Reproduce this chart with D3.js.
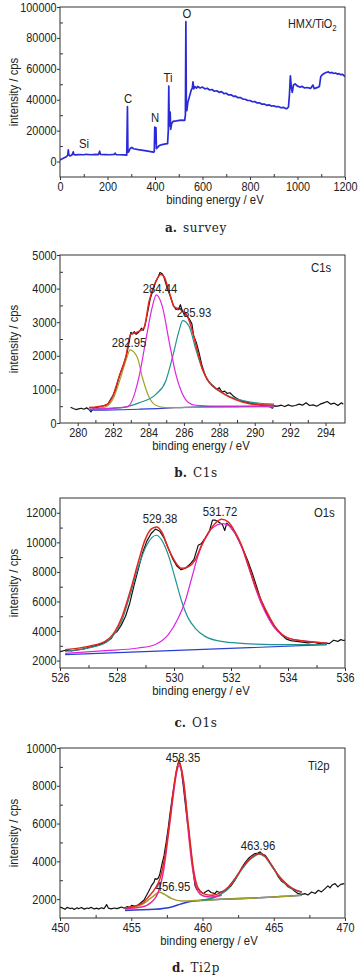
<!DOCTYPE html>
<html><head><meta charset="utf-8">
<script src="https://cdn.jsdelivr.net/npm/d3@7"></script>
<style>
html,body{margin:0;padding:0;background:#fff;}
svg{display:block;}
text{font-family:"Liberation Sans",Arial,sans-serif;fill:#222;}
</style></head><body>
<svg id="c" width="358" height="979"></svg>
<script>
// ---------- DATA ----------
// (a) survey spectrum: [binding energy eV, counts]
const surveyData = [[0,800],[5,1500],[12,2000],[20,2600],[28,3300],[33,4200],[35,7600],[37,4500],[42,3600],[50,4200],[56,6300],[58,4600],[65,4300],[80,4500],[100,4400],[110,4700],[130,4400],[150,4600],[162,4500],[167,6700],[170,4600],[190,4500],[210,4400],[228,4600],[232,5400],[236,4500],[250,4400],[270,4300],[281,4100],[284,35500],[286,6000],[290,6500],[296,8600],[302,9100],[310,8300],[330,7700],[350,7200],[370,6700],[393,6100],[397,6400],[399,22300],[402,12000],[404,22000],[406,8400],[410,9000],[418,10300],[430,11000],[445,11400],[453,11600],[456,20000],[458,48800],[460,25000],[462,23000],[464,32000],[466,20800],[470,24500],[476,26000],[490,26300],[510,26800],[525,26700],[528,30000],[530,90500],[532,36000],[534,33000],[538,38000],[545,42000],[552,46000],[557,47500],[560,51500],[563,47000],[568,48500],[575,47500],[580,48600],[590,47600],[600,48200],[610,47000],[620,47400],[630,46300],[640,46600],[650,45500],[660,45800],[670,44800],[680,45200],[690,44000],[700,44200],[710,43100],[720,43200],[730,42200],[740,42300],[750,41300],[760,41400],[770,40400],[780,40300],[790,39500],[800,39500],[810,38700],[820,38800],[830,37900],[840,38000],[850,37100],[860,37200],[870,36400],[880,36700],[890,35900],[900,36100],[910,35400],[920,35600],[930,34800],[940,35100],[950,34300],[955,34200],[962,35300],[966,43000],[970,55500],[974,48000],[978,44800],[983,49500],[990,50200],[1000,48800],[1010,48200],[1020,48600],[1030,47600],[1040,47900],[1055,47300],[1065,49500],[1070,47200],[1085,48000],[1092,48500],[1098,55000],[1105,56200],[1112,57000],[1120,57600],[1130,58000],[1138,57300],[1145,57700],[1152,57000],[1160,57300],[1168,56600],[1175,56900],[1182,56200],[1190,56400],[1200,55000]];
const surveyLabels = ["Si","C","N","Ti","O"];

// (b) C1s
const c1sRaw = [[279.6,470],[279.75,430],[279.9,400],[280.05,420],[280.2,440],[280.35,410],[280.5,450],[280.65,400],[280.75,330],[280.9,450],[281.1,470],[281.3,490],[281.5,520],[281.7,560],[281.85,700],[282.0,820],[282.15,1000],[282.3,1300],[282.45,1550],[282.6,1750],[282.75,2000],[282.9,2400],[283.0,2700],[283.1,2650],[283.2,2720],[283.3,2640],[283.45,2700],[283.6,2820],[283.7,2760],[283.8,2900],[283.95,3300],[284.1,3700],[284.25,3950],[284.4,4200],[284.55,4350],[284.65,4480],[284.75,4450],[284.85,4380],[284.95,4200],[285.1,3950],[285.25,3750],[285.4,3500],[285.55,3380],[285.7,3400],[285.8,3520],[285.9,3350],[286.0,3250],[286.15,3200],[286.3,3100],[286.45,2950],[286.55,2600],[286.7,2400],[286.85,2100],[287.0,1750],[287.15,1500],[287.3,1300],[287.5,1180],[287.7,1080],[287.85,1000],[288.0,1050],[288.15,920],[288.3,950],[288.45,880],[288.6,900],[288.75,820],[288.9,760],[289.1,700],[289.3,650],[289.5,620],[289.7,600],[289.9,560],[290.1,570],[290.3,540],[290.5,520],[290.7,510],[290.9,470],[291.0,440],[291.1,510],[291.3,500],[291.5,530],[291.7,490],[291.9,540],[292.1,500],[292.3,520],[292.5,560],[292.7,530],[292.9,600],[293.1,520],[293.3,540],[293.5,500],[293.7,560],[293.9,600],[294.1,640],[294.3,560],[294.5,590],[294.7,520],[294.9,600],[295,560]];
const c1sEnvelope = [[280.64,460],[281.58,530],[281.96,775],[282.33,1362],[282.71,1950],[282.99,2636],[283.28,2685],[283.56,2754],[283.75,2832],[284.03,3616],[284.41,4204],[284.69,4420],[284.88,4351],[285.16,3910],[285.44,3469],[285.82,3371],[286.2,3175],[286.48,2734],[286.76,2146],[287.04,1607],[287.42,1215],[287.98,970],[288.55,775],[289.3,627],[290.06,549],[291.09,530]];
const c1sPeak1 = [[280.64,402],[281.58,480],[282.05,775],[282.43,1362],[282.81,2000],[282.95,2176],[283.37,1950],[283.65,1362],[284.03,775],[284.41,529],[284.97,460],[291.09,480]];
const c1sPeak2 = [[280.64,410],[282.81,480],[283.46,1362],[283.84,2440],[284.22,3469],[284.44,3812],[284.78,3469],[285.16,2440],[285.54,1460],[285.91,872],[286.29,598],[286.67,529],[288.17,500],[291.09,500]];
const c1sPeak3 = [[280.64,402],[282.52,460],[283.46,598],[284.41,853],[284.97,1245],[285.35,1950],[285.72,2734],[285.93,3048],[286.29,2881],[286.67,2195],[287.04,1607],[287.42,1215],[287.98,950],[288.74,755],[289.68,627],[291.09,559]];
const c1sBase = [[280.64,380],[281.5,385],[282.5,395],[283.5,410],[284.5,430],[285.5,455],[286.5,475],[287.5,485],[289,490],[291.09,495]];
const c1sLabels = ["282.95","284.44","285.93"];

// (c) O1s
const o1sRaw = [[526.0,2600],[526.2,2700],[526.4,2650],[526.6,2720],[526.8,2780],[527.0,2880],[527.2,2980],[527.4,3100],[527.6,3250],[527.8,3500],[527.9,3850],[528.0,3950],[528.15,4400],[528.3,5000],[528.45,5900],[528.6,7100],[528.75,8200],[528.9,9300],[529.05,10100],[529.2,10600],[529.35,10900],[529.5,10750],[529.65,10300],[529.8,9600],[529.95,8900],[530.1,8400],[530.25,8150],[530.4,8250],[530.55,8500],[530.7,8850],[530.85,9800],[530.95,9900],[531.1,10300],[531.25,10800],[531.35,11500],[531.45,11500],[531.55,11400],[531.7,11200],[531.78,10800],[531.85,11300],[532.0,11000],[532.15,10600],[532.3,10000],[532.45,9400],[532.6,8700],[532.75,7900],[532.9,7000],[533.05,6100],[533.2,5400],[533.35,4800],[533.5,4300],[533.65,4000],[533.8,3700],[533.95,3450],[534.1,3350],[534.3,3300],[534.5,3250],[534.7,3200],[534.9,3250],[535.1,3150],[535.3,3200],[535.45,3150],[535.6,3380],[535.75,3300],[535.85,3420],[535.95,3360],[536,3380]];
const o1sEnvelope = [[526.18,2740],[526.99,2964],[527.58,3300],[527.93,3975],[528.16,4875],[528.46,6670],[528.75,8690],[528.98,10150],[529.22,10930],[529.39,11040],[529.57,10710],[529.8,9590],[530.04,8690],[530.27,8240],[530.5,8350],[530.74,8800],[530.97,9810],[531.2,10600],[531.44,11270],[531.67,11560],[531.9,11380],[532.14,10710],[532.37,9810],[532.61,8460],[532.84,7120],[533.08,5990],[533.31,5090],[533.54,4310],[533.78,3790],[534.01,3520],[534.48,3340],[534.95,3250],[535.36,3180]];
const o1sPeak1 = [[526.18,2626],[526.99,2852],[527.58,3189],[527.93,3862],[528.16,4648],[528.46,6443],[528.75,8350],[529.04,9810],[529.38,10480],[529.57,10150],[529.8,9140],[530.04,7570],[530.27,6000],[530.5,4875],[530.74,4200],[531.09,3640],[531.67,3300],[532.84,3120],[534.01,3080],[535.36,3080]];
const o1sPeak2 = [[526.18,2493],[527.58,2672],[528.75,2852],[529.33,3077],[529.8,3750],[530.15,4875],[530.39,6000],[530.62,7570],[530.85,9140],[531.09,10260],[531.32,10930],[531.72,11270],[531.9,11150],[532.14,10600],[532.37,9700],[532.61,8350],[532.84,7000],[533.08,5770],[533.31,4875],[533.54,4200],[533.78,3750],[534.01,3530],[534.48,3350],[535.36,3190]];
const o1sBase = [[526.18,2404],[530.8,2740],[535.36,3077]];
const o1sLabels = ["529.38","531.72"];

// (d) Ti2p
const ti2pRaw = [[450.0,1580],[450.2,1520],[450.35,1460],[450.5,1560],[450.7,1500],[450.85,1530],[451.0,1450],[451.2,1540],[451.3,1490],[451.5,1560],[451.7,1470],[451.9,1530],[452.0,1500],[452.2,1560],[452.4,1480],[452.6,1520],[452.7,1470],[452.9,1540],[453.1,1500],[453.27,1710],[453.4,1520],[453.6,1480],[453.8,1530],[454.0,1500],[454.2,1550],[454.33,1580],[454.5,1520],[454.7,1600],[454.9,1560],[455.03,1670],[455.3,1620],[455.5,1700],[455.73,1846],[455.9,1950],[456.0,2100],[456.2,2377],[456.35,2600],[456.43,2732],[456.6,2900],[456.67,3088],[456.8,3050],[456.9,3120],[457.0,3300],[457.14,3793],[457.3,4300],[457.45,5000],[457.6,5800],[457.75,6700],[457.9,7500],[458.05,8200],[458.2,8900],[458.35,9363],[458.5,8900],[458.65,8000],[458.8,7000],[458.95,6000],[459.01,5740],[459.15,4800],[459.3,3800],[459.47,2732],[459.6,2500],[459.71,2556],[459.85,2400],[460.06,2290],[460.2,2380],[460.41,2467],[460.6,2350],[460.88,2290],[461.0,2420],[461.2,2350],[461.35,2400],[461.6,2420],[461.81,2556],[462.0,2700],[462.28,3000],[462.5,3300],[462.75,3650],[463.0,3950],[463.22,4148],[463.45,4300],[463.68,4414],[463.85,4420],[464.04,4500],[464.2,4380],[464.39,4324],[464.6,4100],[464.85,3793],[465.1,3500],[465.32,3173],[465.55,2950],[465.79,2820],[466.0,2650],[466.26,2556],[466.5,2400],[466.72,2290],[466.96,2250],[467.19,2290],[467.4,2220],[467.66,2380],[467.9,2300],[468.13,2467],[468.35,2380],[468.6,2556],[468.8,2700],[468.95,2600],[469.1,2750],[469.3,2820],[469.5,2650],[469.7,2780],[469.95,2820]];
const ti2pEnvelope = [[454.56,1528],[455.73,1760],[456.2,2113],[456.67,2556],[457.02,3088],[457.37,4324],[457.72,6270],[458.07,8392],[458.35,9275],[458.65,8392],[459.01,5915],[459.36,3617],[459.71,2556],[460.06,2290],[460.64,2202],[461.35,2377],[461.81,2644],[462.28,3088],[462.75,3617],[463.22,4060],[463.68,4324],[464.04,4414],[464.39,4272],[464.85,3793],[465.32,3262],[465.79,2873],[466.26,2590],[466.96,2377]];
const ti2pPeak1 = [[454.56,1495],[455.73,1707],[456.32,2025],[456.78,2290],[456.95,2377],[457.37,2237],[457.84,2025],[458.54,1900],[459.47,1920],[461.35,1990],[463.68,2060],[466.96,2202]];
const ti2pPeak2 = [[454.56,1495],[455.73,1581],[456.43,1846],[456.9,2377],[457.25,3438],[457.6,5385],[457.95,7507],[458.19,8743],[458.35,9063],[458.54,8743],[458.77,7507],[459.01,5562],[459.24,3970],[459.47,2908],[459.71,2377],[460.06,2165],[460.64,2113],[461.35,2202]];
const ti2pPeak3 = [[459.94,1936],[460.64,2040],[461.35,2290],[461.81,2600],[462.28,3050],[462.75,3580],[463.22,4030],[463.68,4300],[463.96,4400],[464.39,4250],[464.85,3770],[465.32,3240],[465.79,2850],[466.26,2570],[466.96,2360]];
const ti2pBase = [[454.56,1406],[456.67,1460],[457.84,1581],[458.54,1760],[459.24,1884],[459.94,1936],[461.35,1990],[463.68,2060],[466.96,2202]];
const ti2pLabels = ["456.95","458.35","463.96"];

// tick values
const xTicksA = [0,200,400,600,800,1000,1200], yTicksA = [0,20000,40000,60000,80000,100000];
const xTicksB = [280,282,284,286,288,290,292,294], yTicksB = [0,1000,2000,3000,4000,5000];
const xTicksC = [526,528,530,532,534,536], yTicksC = [2000,4000,6000,8000,10000,12000];
const xTicksD = [450,455,460,465,470], yTicksD = [2000,4000,6000,8000,10000];
const xMinorA = [100,300,500,700,900,1100], yMinorA = [10000,30000,50000,70000,90000];
const xMinorB = [281,283,285,287,289,291,293], yMinorB = [500,1500,2500,3500,4500];
const xMinorC = [527,529,531,533,535], yMinorC = [3000,5000,7000,9000,11000];
const xMinorD = [452.5,457.5,462.5,467.5], yMinorD = [3000,5000,7000,9000];

const captions = [["a.","survey"],["b.","C1s"],["c.","O1s"],["d.","Ti2p"]];

// ---------- DRAW ----------
const svg = d3.select("#c");
const L = 60, R = 345;
const SX = 0.87;
const COL = {raw:"#111", blue:"#2a2ad8", red:"#e3261e", mag:"#e024e0", teal:"#21938e", olive:"#a3a02a", base:"#2b3fd0", pink:"#e8268e"};

function txt(g, x, y, s, size, anchor){
  return g.append("text").attr("transform",`translate(${x},${y}) scale(${SX},1)`)
    .attr("text-anchor",anchor||"middle").attr("font-size",size+"px").text(s);
}

function panel(cfg){
  const g = svg.append("g");
  const x = d3.scaleLinear().domain(cfg.xd).range([L,R]);
  const y = d3.scaleLinear().domain(cfg.yd).range([cfg.bot,cfg.top]);
  const fmt = d3.format("d");
  const xa = g.append("g").attr("transform",`translate(0,${cfg.bot})`)
    .call(d3.axisBottom(x).tickValues(cfg.xt).tickSize(3).tickPadding(2).tickFormat(fmt));
  const xm = g.append("g").attr("transform",`translate(0,${cfg.bot})`)
    .call(d3.axisBottom(x).tickValues(cfg.xm).tickSize(-3).tickFormat(""));
  const ya = g.append("g").attr("transform",`translate(${L},0)`)
    .call(d3.axisLeft(y).tickValues(cfg.yt).tickSize(3).tickPadding(1).tickFormat(fmt));
  const ym = g.append("g").attr("transform",`translate(${L},0)`)
    .call(d3.axisLeft(y).tickValues(cfg.ym).tickSize(-3).tickFormat(""));
  [xa,xm,ya,ym].forEach(a=>{a.select(".domain").remove();
    a.selectAll("line").attr("stroke","#333");
    a.selectAll("text").attr("font-size","12.5px").attr("fill","#222").attr("transform",`scale(${SX},1)`)
      .style("font-family","Liberation Sans, Arial, sans-serif");});
  const clip = "clip"+cfg.id;
  g.append("clipPath").attr("id",clip).append("rect").attr("x",L).attr("y",cfg.top).attr("width",R-L).attr("height",cfg.bot-cfg.top);
  const lineRaw = d3.line().x(d=>x(d[0])).y(d=>y(d[1]));
  const lineFit = d3.line().x(d=>x(d[0])).y(d=>y(d[1])).curve(d3.curveMonotoneX);
  const lg = g.append("g").attr("clip-path",`url(#${clip})`);
  cfg.series.forEach(s=>{
    lg.append("path").datum(s.data).attr("d",s.fit?lineFit:lineRaw).attr("fill","none")
      .attr("stroke",s.color).attr("stroke-width",s.w||1.2).attr("stroke-linejoin","round");
  });
  g.append("rect").attr("x",L).attr("y",cfg.top).attr("width",R-L).attr("height",cfg.bot-cfg.top)
    .attr("fill","none").attr("stroke","#333").attr("stroke-width",1);
  txt(g, cfg.xtx, cfg.bot+27, "binding energy / eV", 13);
  g.append("text").attr("transform",`translate(18,${(cfg.top+cfg.bot)/2}) rotate(-90) scale(${SX},1)`).attr("text-anchor","middle")
    .attr("font-size","13px").text("intensity / cps");
  const cap = g.append("text").attr("x",196).attr("y",cfg.capy).attr("text-anchor","middle")
    .style("font-family","DejaVu Serif, Liberation Serif, serif").attr("font-size","12px");
  cap.append("tspan").attr("font-weight","bold").text(cfg.cap[0]);
  cap.append("tspan").attr("dx","6").attr("letter-spacing","0.6px").text(cfg.cap[1]);
  cfg.labels.forEach(l=>{ txt(g, l[0], l[1], l[2], l[4]||13, l[3]||"middle"); });
  return g;
}

// (a)
const ga = panel({id:"a", xd:[0,1200], yd:[-10000,100000], top:7, bot:177, xt:xTicksA, yt:yTicksA, xm:xMinorA, ym:yMinorA,
  xtx:215, capy:232, cap:captions[0],
  series:[{data:surveyData,color:COL.blue,w:1.7}],
  labels:[[84,148,surveyLabels[0]],[128,103,surveyLabels[1]],[155,122,surveyLabels[2]],[168,82,surveyLabels[3]],[187,18,surveyLabels[4]]]});
const ht = ga.append("text").attr("transform",`translate(288,28) scale(${SX},1)`).attr("font-size","12.5px").text("HMX/TiO");
ht.append("tspan").attr("dy",3).attr("font-size","9px").text("2");

// (b)
panel({id:"b", xd:[279,295.1], yd:[0,5000], top:255, bot:423, xt:xTicksB, yt:yTicksB, xm:xMinorB, ym:yMinorB,
  xtx:201, capy:477, cap:captions[1],
  series:[{data:c1sRaw,color:COL.raw},{data:c1sBase,color:COL.base,fit:1},{data:c1sPeak1,color:COL.olive,fit:1},{data:c1sPeak3,color:COL.teal,fit:1},{data:c1sPeak2,color:COL.mag,fit:1},{data:c1sEnvelope,color:COL.red,w:1.5,fit:1}],
  labels:[[129,347,c1sLabels[0]],[160,293,c1sLabels[1]],[194,317,c1sLabels[2]],[311,272,"C1s","start"]]});

// (c)
panel({id:"c", xd:[526,536], yd:[1500,13000], top:498, bot:668, xt:xTicksC, yt:yTicksC, xm:xMinorC, ym:yMinorC,
  xtx:201, capy:727, cap:captions[2],
  series:[{data:o1sRaw,color:COL.raw},{data:o1sBase,color:COL.base,fit:1},{data:o1sPeak1,color:COL.teal,fit:1},{data:o1sPeak2,color:COL.mag,fit:1},{data:o1sEnvelope,color:COL.red,w:1.5,fit:1}],
  labels:[[160,523,o1sLabels[0]],[220,516,o1sLabels[1]],[314,517,"O1s","start"]]});

// (d)
panel({id:"d", xd:[450,470], yd:[1000,10000], top:748, bot:918, xt:xTicksD, yt:yTicksD, xm:xMinorD, ym:yMinorD,
  xtx:209, capy:972, cap:captions[3],
  series:[{data:ti2pRaw,color:COL.raw},{data:ti2pBase,color:COL.base,w:1.6,fit:1},{data:ti2pPeak1,color:COL.olive,w:1.6,fit:1},{data:ti2pPeak3,color:COL.teal,w:1.8,fit:1},{data:ti2pPeak2,color:COL.pink,w:1.5,fit:1},{data:ti2pEnvelope,color:COL.red,w:1.4,fit:1}],
  labels:[[173,891,ti2pLabels[0]],[183,762,ti2pLabels[1]],[258,850,ti2pLabels[2]],[308,770,"Ti2p","start"]]});
</script>
</body></html>
